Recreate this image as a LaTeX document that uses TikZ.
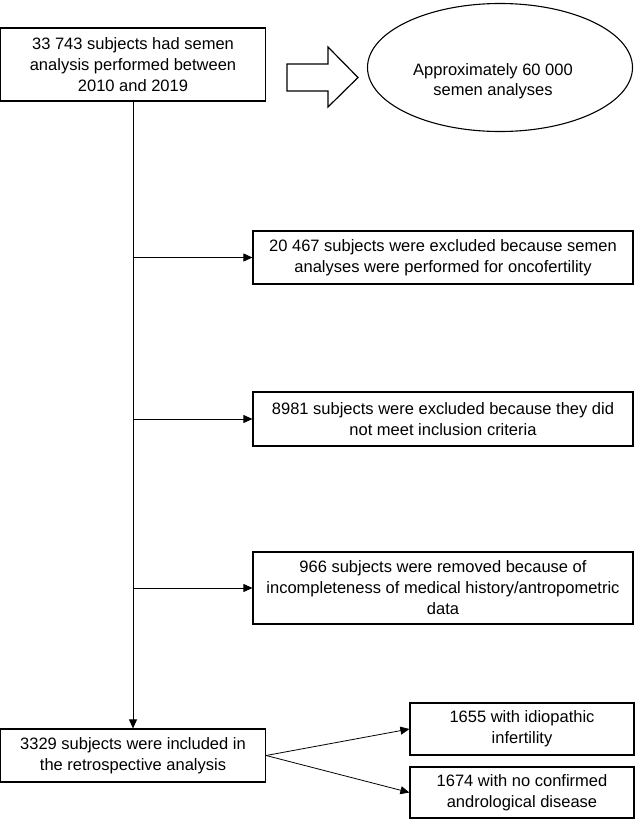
\documentclass[tikz,border=0pt]{standalone}
\usepackage{fontspec}
\setmainfont{Liberation Sans}
\usetikzlibrary{shapes.geometric,arrows.meta}
\begin{document}
\begin{tikzpicture}[x=1pt,y=-1pt,
  box/.style={draw, line width=1.2pt, inner sep=0pt, align=center,
    font=\fontsize{16.5}{21}\selectfont},
  txt/.style={inner sep=0pt, align=center, font=\fontsize{16.5}{20}\selectfont},
  conn/.style={line width=0.8pt, -{Triangle[length=9pt,width=8pt]}}]
\useasboundingbox (0,0) rectangle (635,820);
\node[box, minimum width=265pt, minimum height=73pt] (b1) at (133,64.5)
  {33 743 subjects had semen\\analysis performed between\\2010 and 2019};
\node[draw, ellipse, line width=1.1pt, inner sep=0pt, minimum width=265pt, minimum height=128pt] (ell) at (500,67.5) {};
\node[txt] (elltxt) at (493,81) {Approximately 60 000\\semen analyses};
\node[box, minimum width=380pt, minimum height=53pt] (b2) at (443,257.5)
  {20 467 subjects were excluded because semen\\analyses were performed for oncofertility};
\node[box, minimum width=380pt, minimum height=54pt] (b3) at (443,419)
  {8981 subjects were excluded because they did\\not meet inclusion criteria};
\node[box, minimum width=380pt, minimum height=72pt] (b4) at (443,588)
  {966 subjects were removed because of\\incompleteness of medical history/antropometric\\data};
\node[box, minimum width=265pt, minimum height=53pt] (b5) at (133,755.5)
  {3329 subjects were included in\\the retrospective analysis};
\node[box, minimum width=224pt, minimum height=52pt] (b6) at (522,729)
  {1655 with idiopathic\\infertility};
\node[box, minimum width=224pt, minimum height=51pt] (b7) at (522,792.5)
  {1674 with no confirmed\\andrological disease};
% hollow block arrow
\coordinate (ha) at (287,77.5);
\draw[line width=1.2pt, line join=miter] (ha) ++(0,-13.5) -- ++(41,0) -- ++(0,-17) -- ++(30,30.5)
  -- ++(-30,29.5) -- ++(0,-16) -- ++(-41,0) -- cycle;
% connectors
\draw[conn] (b1.south) -- (b5.north);
\draw[conn] (b1.south |- b2.west) -- (b2.west);
\draw[conn] (b1.south |- b3.west) -- (b3.west);
\draw[conn] (b1.south |- b4.west) -- (b4.west);
\draw[conn] (b5.east) -- (b6.west);
\draw[conn] (b5.east) -- (b7.west);
\end{tikzpicture}
\end{document}
